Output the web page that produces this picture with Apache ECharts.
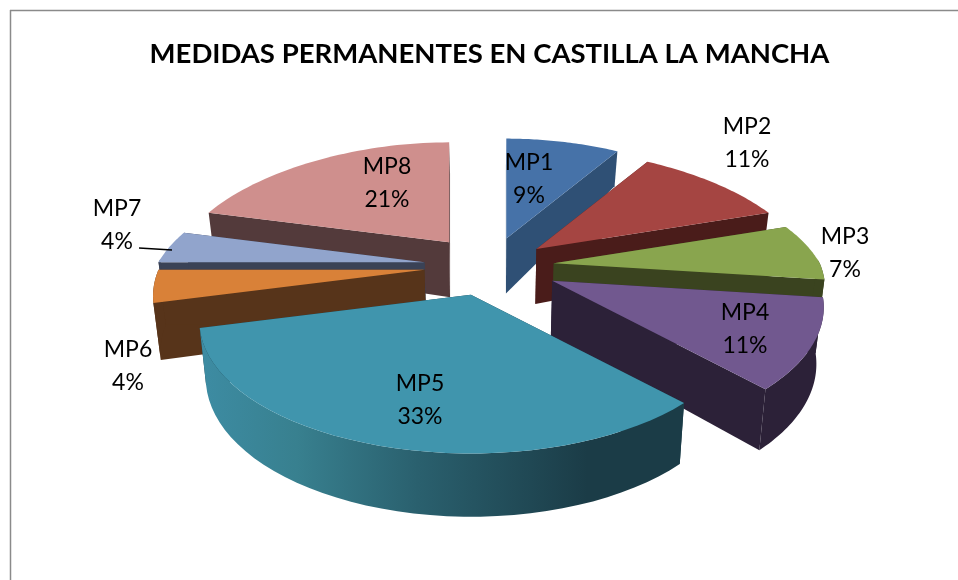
<!DOCTYPE html>
<html>
<head>
<meta charset="utf-8">
<style>html,body{margin:0;padding:0;background:#fff}#c{width:958px;height:580px}</style>
<script src="https://cdn.jsdelivr.net/npm/echarts@6/dist/echarts.min.js"></script>
</head>
<body>
<div id="c"></div>
<script>
const chartTitle = 'MEDIDAS PERMANENTES EN CASTILLA LA MANCHA';
const categories = ['MP1','MP2','MP3','MP4','MP5','MP6','MP7','MP8'];
const shares = [9,11,7,11,33,4,4,21];

const topColors = ['#4672a8','#a54542','#89a54e','#71588f','#4095ad','#d98138','#91a4cc','#cf8f8d'];
const sideColors = ['#2f5075','#4a1c1a','#3a431f','#2c2138','#1b3c47','#57341a','#3a4256','#533a3b'];
const paintOrder = [0,7,1,6,2,5,3,4];
const labelCenters = [[529,179],[747,143],[845,253],[745,329],[420,400],[128,366],[117,225],[387,183]];
const explosions = [62,60,65,71,65,65,65,65];

const CX = 489, CY = 266, R = 266, RY = 127, KFRONT = 0.2, KBACK = 0.27, TILT = 0.46, DEPTH = 55, CONVERGE = 0.022;
const total = shares.reduce((a,b)=>a+b,0);

function scaleAt(v){ return 1/(1-(v>0?KFRONT:KBACK)*v); }
function depthAt(v){ return DEPTH*(v>0 ? 1+0.15*v : 1+0.43*v); }

function renderSlice(params, api){
  const i = api.value(0);
  const before = shares.slice(0,i).reduce((a,b)=>a+b,0);
  const a0 = before/total*2*Math.PI;
  const a1 = (before+shares[i])/total*2*Math.PI;
  const mid = (a0+a1)/2;
  const ax = CX+explosions[i]*Math.sin(mid), ay = CY-explosions[i]*TILT*Math.cos(mid);
  const rim = t => {
    const v=-Math.cos(t), s=scaleAt(v), sx = v<0 ? s*(1-0.06*v*v) : s;
    return [ax+R*Math.sin(t)*sx, ay+RY*v*s];
  };
  const low = (p,t) => [p[0]-(p[0]-CX)*CONVERGE, p[1]+depthAt(-Math.cos(t))];
  const steps = 40, arc = [];
  for(let n=0;n<=steps;n++) arc.push(a0+(a1-a0)*n/steps);
  const rank = paintOrder.indexOf(i);
  const apex=[ax,ay], apexLow=[ax-(ax-CX)*CONVERGE,ay+DEPTH];
  const poly=(pts,fill,sub)=>({type:'polygon',z2:rank*10+sub,shape:{points:pts},style:{fill:fill,stroke:null}});
  const children=[];
  children.push(poly([apex,rim(a0),low(rim(a0),a0),apexLow],sideColors[i],0));
  children.push(poly([apex,rim(a1),low(rim(a1),a1),apexLow],sideColors[i],1));
  const front = arc.filter(t=>-Math.cos(t)>-0.03);
  if(front.length>1){
    const upper = front.map(rim);
    const lower = front.map(t=>low(rim(t),t)).reverse();
    let fill = sideColors[i];
    if(i===4){
      fill={type:'linear',x:0,y:0,x2:1,y2:0,colorStops:[
        {offset:0,color:'#3d8ca3'},{offset:0.2,color:'#38808f'},{offset:0.45,color:'#2a606e'},
        {offset:0.8,color:'#1b3c47'},{offset:1,color:'#1b3c47'}]};
    }
    children.push(poly(upper.concat(lower),fill,2));
  }
  children.push(poly([apex].concat(arc.map(rim)),topColors[i],3));
  return {type:'group',children};
}

const chart = echarts.init(document.getElementById('c'),null,{renderer:'canvas'});
const labelFont = 'Lato, "Open Sans", sans-serif';
chart.setOption({
  animation:false,
  backgroundColor:'#ffffff',
  title:{text:chartTitle,left:484.5,top:35,textAlign:'center',
    textStyle:{fontFamily:labelFont,fontWeight:'bold',fontSize:27.5,color:'#000'}},
  xAxis:{show:false},yAxis:{show:false},
  series:[{
    type:'custom',coordinateSystem:'none',silent:true,
    renderItem:renderSlice,
    data:paintOrder.map(i=>[i,shares[i]])
  }],
  graphic:[
    {type:'line',shape:{x1:10,y1:10.5,x2:958,y2:10.5},style:{stroke:'#8a8a8a',lineWidth:1.5},z:0},
    {type:'line',shape:{x1:10.5,y1:10,x2:10.5,y2:580},style:{stroke:'#8a8a8a',lineWidth:1.5},z:0},
    {type:'line',shape:{x1:139,y1:248,x2:172,y2:250},style:{stroke:'#000',lineWidth:1.5},z:50}
  ].concat(categories.map((c,i)=>({
    type:'text',z:60,x:labelCenters[i][0],y:labelCenters[i][1],
    style:{text:c+'\n'+shares[i]+'%',align:'center',verticalAlign:'middle',
      font:'23px '+labelFont,lineHeight:33,fill:'#000'}
  })))
});
</script>
</body>
</html>
